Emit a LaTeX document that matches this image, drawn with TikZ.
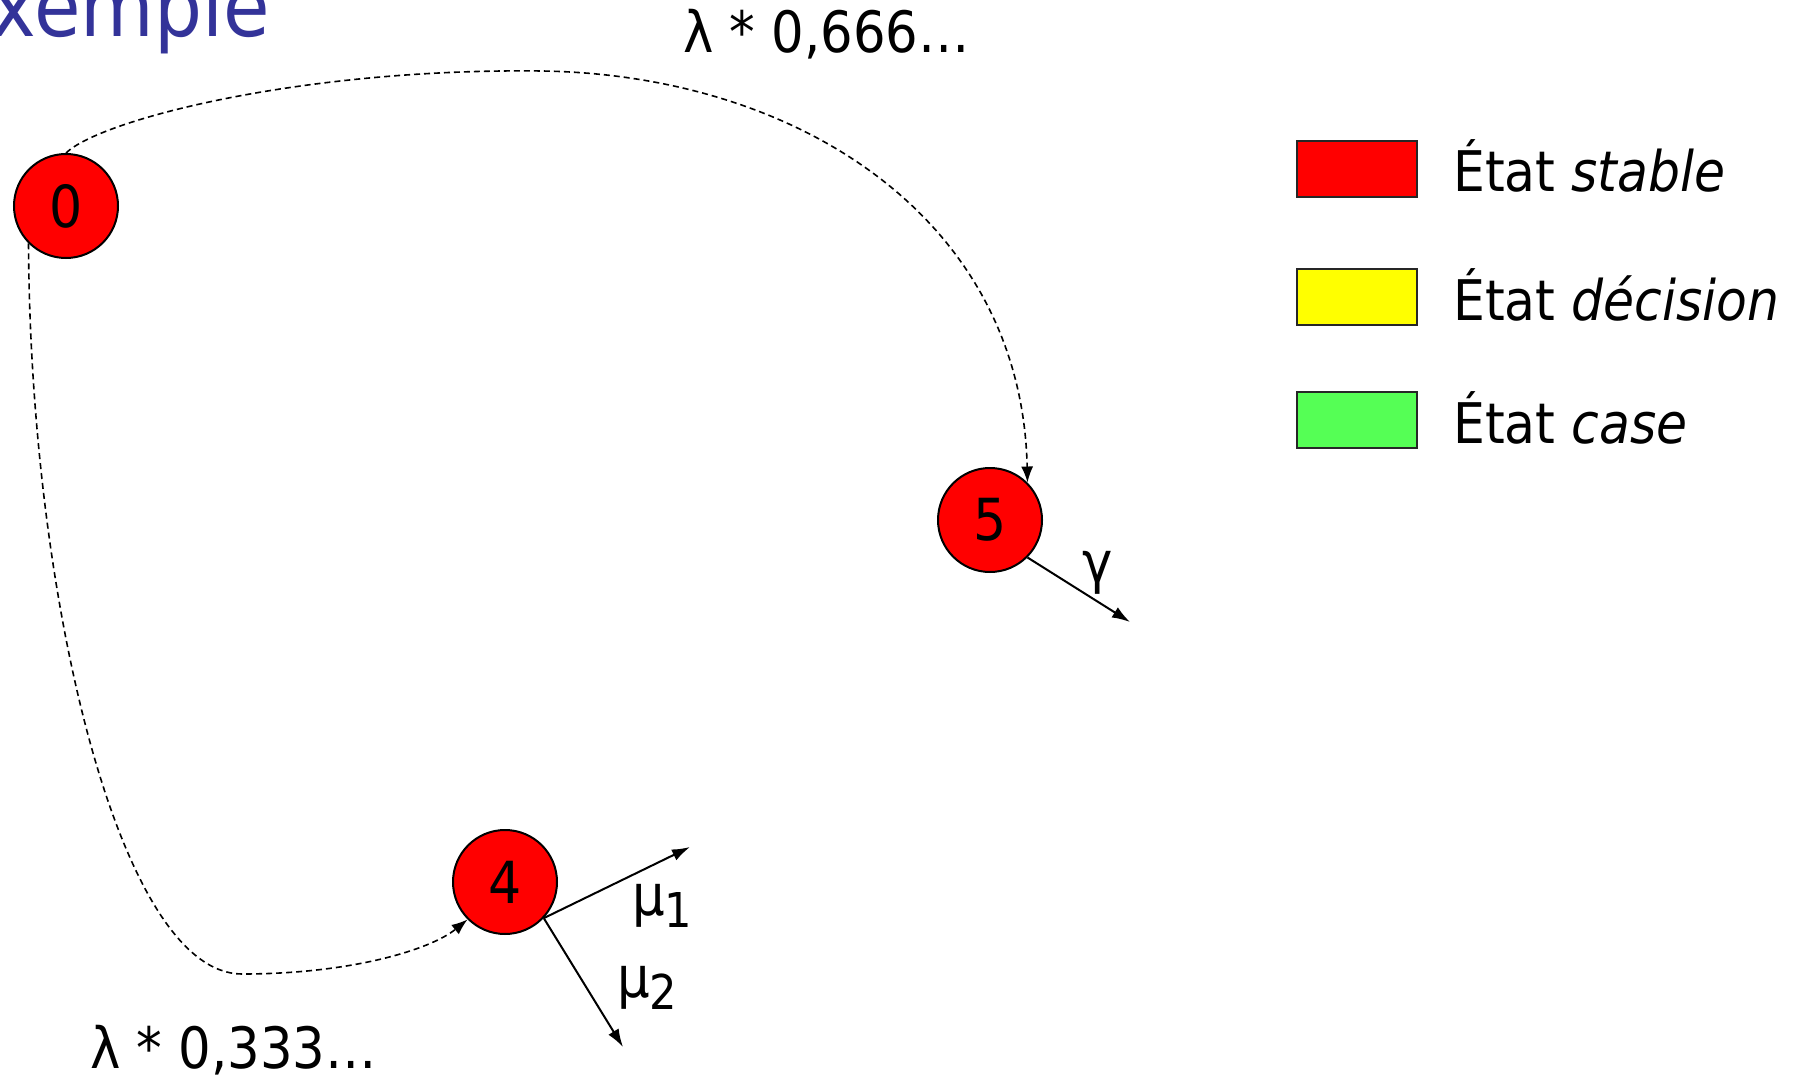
\documentclass[tikz,border=0pt]{standalone}
\usepackage{fontspec}
\setmainfont[FakeStretch=0.9]{DejaVu Sans}
\usetikzlibrary{arrows.meta}
\definecolor{titleblue}{RGB}{51,51,153}
\definecolor{stablered}{RGB}{255,0,0}
\definecolor{decyellow}{RGB}{255,255,0}
\definecolor{casegreen}{RGB}{85,255,85}
\begin{document}
\begin{tikzpicture}[x=1pt,y=-1pt,
 state/.style={circle, draw=black, line width=2pt, fill=stablered, minimum size=104pt, inner sep=0pt, font=\fontsize{58}{60}\selectfont},
 dflow/.style={dash pattern=on 6pt off 4pt, line width=1.6pt, -{Latex[length=16pt,width=12pt]}},
 sflow/.style={line width=2pt, -{Latex[length=18pt,width=12pt]}},
 lbl/.style={font=\fontsize{57}{60}\selectfont, inner sep=0pt},
 legbox/.style={draw=black!85, line width=2pt, minimum width=120pt, minimum height=56pt, inner sep=0pt},
 legtext/.style={font=\fontsize{56}{60}\selectfont, inner sep=0pt, anchor=base west}]
\useasboundingbox (0,0) rectangle (1807,1078);
\clip (0,0) rectangle (1807,1078);

\node[font=\fontsize{84}{90}\selectfont, text=titleblue, anchor=base east, inner sep=0pt] (title) at (270,37) {Exemple};

\node[state] (n0) at (66,206) {0};
\node[state] (n5) at (990,520) {5};
\node[state] (n4) at (505,882) {4};

\draw[dflow] (n0.north) .. controls (100,120) and (300,68) .. (542,71) .. controls (800,75) and (1022,220) .. (n5.45);
\draw[dflow] (n0.225) .. controls (30,600) and (120,974) .. (242,974) .. controls (350,974) and (430,950) .. (n4.225);

\coordinate (g) at (1130,622);
\coordinate (m1) at (690,847);
\coordinate (m2) at (623,1047);
\draw[sflow] (n5.-45) -- (g);
\draw[sflow] (n4.-43) -- (m1);
\draw[sflow] (n4.-43) -- (m2);

\node[lbl] (gl) at (1098,573) {γ};
\node[lbl, anchor=base west] (mu1) at (632,915) {μ\raisebox{-12pt}{\fontsize{48}{50}\selectfont 1}};
\node[lbl, anchor=base west] (mu2) at (617,997) {μ\raisebox{-12pt}{\fontsize{48}{50}\selectfont 2}};

\node[lbl, anchor=base west] (l1) at (683,53) {λ * 0,666…};
\node[lbl, anchor=base west] (l2) at (90,1068) {λ * 0,333…};

\node[legbox, fill=stablered] (kr) at (1357,169) {};
\node[legbox, fill=decyellow] (ky) at (1357,297) {};
\node[legbox, fill=casegreen] (kg) at (1357,420) {};
\node[legtext] (tr) at (1453,192) {État \textit{stable}};
\node[legtext] (ty) at (1453,320) {État \textit{décision}};
\node[legtext] (tg) at (1453,443) {État \textit{case}};
\end{tikzpicture}
\end{document}
